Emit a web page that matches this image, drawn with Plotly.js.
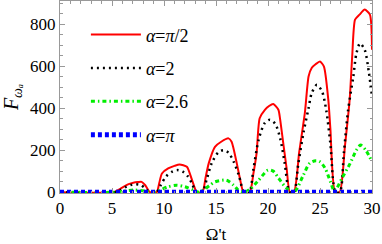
<!DOCTYPE html>
<html>
<head>
<meta charset="utf-8">
<script src="https://cdn.plot.ly/plotly-3.0.1.min.js"></script>
<style>html,body{margin:0;padding:0;background:#fff;}#chart{width:382px;height:244px;}</style>
</head>
<body>
<div id="chart"></div>
<script>
// α = π/2 (red)
var redT = [0, 5.2, 5.5, 6.1, 6.6, 7.05, 7.5, 7.85, 8.2, 8.65,
  9.3, 9.55, 9.8, 10.4, 11.0, 11.5, 12.2, 12.7, 13.15,
  13.7, 14.0, 14.3, 14.9, 15.5, 16.2, 16.5, 17.0, 17.3, 17.65,
  18.25, 18.6, 18.9, 19.2, 19.7, 20.1, 20.5, 21.0, 21.15, 21.5, 21.8, 22.1,
  22.5, 23.0, 23.55, 23.9, 24.2, 24.6, 25.0, 25.38, 25.8, 26.0, 26.45,
  26.9, 27.4, 27.85, 28.1, 28.37, 28.8, 29.3, 29.8, 30];
var redV = [0, 0, 8, 25, 38, 45, 48, 49, 33, 0,
  0, 45, 89, 113, 125, 132, 121, 57, 0,
  0, 70, 137, 216, 240, 256, 240, 137, 65, 0,
  0, 90, 185, 352, 392, 410, 420, 392, 352, 220, 110, 0,
  0, 190, 380, 551, 591, 610, 622, 598, 439, 300, 0,
  0, 220, 439, 650, 821, 845, 869, 845, 678];

// α = 2 (black dotted)
var blackT = [0, 5.3, 5.8, 6.3, 6.8, 7.3, 7.8, 8.2, 8.6,
  9.3, 9.7, 10.2, 10.8, 11.3, 11.8, 12.3, 12.7, 13.1,
  13.7, 14.1, 14.6, 15.2, 15.7, 16.2, 16.7, 17.2, 17.7,
  18.2, 18.6, 19.1, 19.7, 20.2, 20.7, 21.2, 21.6, 22.1,
  22.5, 22.9, 23.4, 23.9, 24.2, 24.7, 25.2, 25.6, 26.0, 26.5,
  26.9, 27.3, 27.7, 28.2, 28.5, 28.85, 29.3, 29.7, 30];
var blackV = [0, 0, 10, 24, 34, 38, 33, 18, 0,
  0, 35, 75, 98, 105, 98, 75, 40, 0,
  0, 60, 140, 188, 200, 188, 145, 80, 0,
  0, 110, 250, 330, 345, 325, 250, 140, 0,
  0, 130, 280, 400, 471, 511, 479, 390, 230, 0,
  0, 190, 390, 549, 660, 708, 677, 570, 455];

// α = 2.6 (green dash-dot)
var greenT = [0, 5.2, 6.2, 7.2, 8.2, 9.0, 9.6, 10.4, 11.2, 12.0, 12.8, 13.4,
  14.0, 14.4, 14.9, 16.0, 16.7, 17.1, 17.7,
  18.3, 19.1, 20.0, 20.5, 21.0, 21.8, 22.5,
  23.4, 24.0, 24.6, 25.0, 25.5, 26.0, 26.4,
  27.1, 27.9, 28.5, 28.9, 29.4, 30];
var greenV = [0, 0, 6, 10, 5, 0, 10, 26, 33, 26, 10, 0,
  18, 33, 49, 57, 33, 12, 0,
  15, 57, 105, 100, 68, 18, 0,
  81, 137, 150, 145, 113, 50, 5,
  65, 137, 200, 224, 200, 145];

// α = π (blue)
var blueT = [0, 30];
var blueV = [0, 0];

var names = ['<i>α</i>=<i>π</i>/2', '<i>α</i>=2', '<i>α</i>=2.6', '<i>α</i>=<i>π</i>'];
var xTicks = [0, 5, 10, 15, 20, 25, 30];
var yTicks = [0, 200, 400, 600, 800];

var serif = 'Liberation Serif';

var traces = [
  {x: redT, y: redV, name: names[0], legendgroup: 'a', mode: 'lines',
   line: {color: '#ff0000', width: 2, shape: 'spline', smoothing: 0.6}},
  {x: blackT, y: blackV, name: names[1], legendgroup: 'b', mode: 'lines',
   line: {color: '#000000', width: 2.5, dash: '2px,4px', shape: 'spline', smoothing: 0.8}},
  {x: greenT, y: greenV, name: names[2], legendgroup: 'c', mode: 'lines',
   line: {color: '#00ee00', width: 3, dash: '4px,3px,1.5px,3px', shape: 'spline', smoothing: 0.8}},
  {x: blueT, y: blueV, name: names[3], legendgroup: 'd', mode: 'lines',
   line: {color: '#0000ff', width: 5, dash: '4px,3px'}}
];

var axisCommon = {
  showgrid: false, zeroline: false, showline: true, linecolor: '#999', linewidth: 1,
  mirror: 'allticks', ticks: 'inside', ticklen: 5, tickcolor: '#999', tickwidth: 1,
  tickfont: {family: serif, size: 17, color: '#000'}
};

var layout = {
  width: 382, height: 244,
  margin: {l: 60, r: 10, t: 1, b: 51},
  paper_bgcolor: '#fff', plot_bgcolor: '#fff',
  font: {family: serif, size: 17, color: '#000'},
  showlegend: true,
  legend: {x: 0.083, y: 0.92, xanchor: 'left', yanchor: 'top', bgcolor: 'rgba(0,0,0,0)',
    font: {family: serif, size: 18, color: '#000'}, traceorder: 'grouped', tracegroupgap: 7,
    itemwidth: 50},
  xaxis: Object.assign({}, axisCommon, {
    range: [0, 30], tickvals: xTicks, ticktext: xTicks.map(String),
    minor: {dtick: 1, ticks: 'inside', ticklen: 2.5, tickcolor: '#999'},
    title: {text: 'Ω\'t', font: {family: serif, size: 17, color: '#000'}, standoff: 10}
  }),
  yaxis: Object.assign({}, axisCommon, {
    range: [-4, 910], tickvals: yTicks, ticktext: yTicks.map(String),
    minor: {dtick: 50, ticks: 'inside', ticklen: 2.5, tickcolor: '#999'},
    title: {text: '<i>F</i><sub><i>ωₐ</i></sub>', font: {family: serif, size: 20, color: '#000'}, standoff: 10}
  })
};

Plotly.newPlot('chart', traces, layout, {staticPlot: true, displayModeBar: false});
</script>
</body>
</html>
